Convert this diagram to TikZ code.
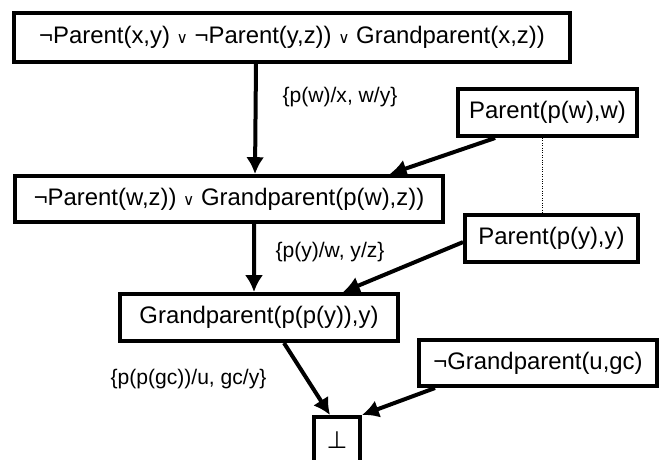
\documentclass[tikz,border=0pt]{standalone}
\usepackage{fontspec}
\setmainfont{Liberation Sans}
\newfontfamily\symfont{DejaVu Sans}
\usepackage{tikz}
\usetikzlibrary{positioning,arrows.meta,calc}
\newcommand{\orsym}{{\symfont\fontsize{11}{11}\selectfont ∨}}

\begin{document}
\begin{tikzpicture}[
    font=\fontsize{17}{20}\selectfont,
    box/.style={draw,line width=0.1cm,inner sep=1pt,align=center},
    arr/.style={-{Latex[length=0.42cm,width=0.45cm]},line width=0.1cm},
    link/.style={densely dotted,line width=0.7pt},
    note/.style={font=\fontsize{15}{18}\selectfont,align=center}
  ]
    \useasboundingbox (0,0) rectangle (16.65,-11.475);
    \clip (0,0) rectangle (16.65,-11.475);

    \node[box,minimum width=13.9cm,minimum height=1.225cm] (c1) at (7.3,-0.925)
      {¬Parent(x,y) \orsym\ ¬Parent(y,z)) \orsym\ Grandparent(x,z))};
    \node[box,minimum width=10.7cm,minimum height=1.15cm] (c2) at (5.725,-4.975)
      {¬Parent(w,z)) \orsym\ Grandparent(p(w),z))};
    \node[box,minimum width=6.95cm,minimum height=1.175cm] (c3) at (6.475,-7.9375)
      {Grandparent(p(p(y)),y)};
    \node[box,minimum width=1.15cm,minimum height=1.175cm] (bot) at (8.425,-11.0125)
      {{\symfont ⊥}};

    \node[box,minimum width=4.475cm,minimum height=1.175cm] (pw) at (13.6875,-2.8125)
      {Parent(p(w),w)};
    \node[box,minimum width=4.325cm,minimum height=1.175cm] (py) at (13.7875,-5.9625)
      {Parent(p(y),y)};
    \node[box,minimum width=5.95cm,minimum height=1.15cm] (ngp) at (13.45,-9.075)
      {¬Grandparent(u,gc)};

    \draw[arr] ([xshift=-0.9cm]c1.south) -- ([xshift=0.65cm]c2.north);
    \draw[arr] ([xshift=-1.31cm]pw.south) -- ([xshift=4.02cm]c2.north);
    \draw[arr] ([xshift=0.625cm]c2.south) -- ([xshift=-0.125cm]c3.north);
    \draw[arr] ([yshift=-0.09cm]py.west) -- ([xshift=2.1cm]c3.north);
    \draw[arr] ([xshift=0.625cm]c3.south) -- ([xshift=-0.175cm]bot.north);
    \draw[arr] ([xshift=-2.575cm]ngp.south) -- (bot.north east);
    \draw[link] ([xshift=-0.1375cm]pw.south) -- ([xshift=-0.2375cm]py.north);

    \node[note] (s1) at (8.5,-2.425) {\{p(w)/x, w/y\}};
    \node[note] (s2) at (8.25,-6.3) {\{p(y)/w, y/z\}};
    \node[note] (s3) at (4.7125,-9.475) {\{p(p(gc))/u, gc/y\}};
\end{tikzpicture}
\end{document}
